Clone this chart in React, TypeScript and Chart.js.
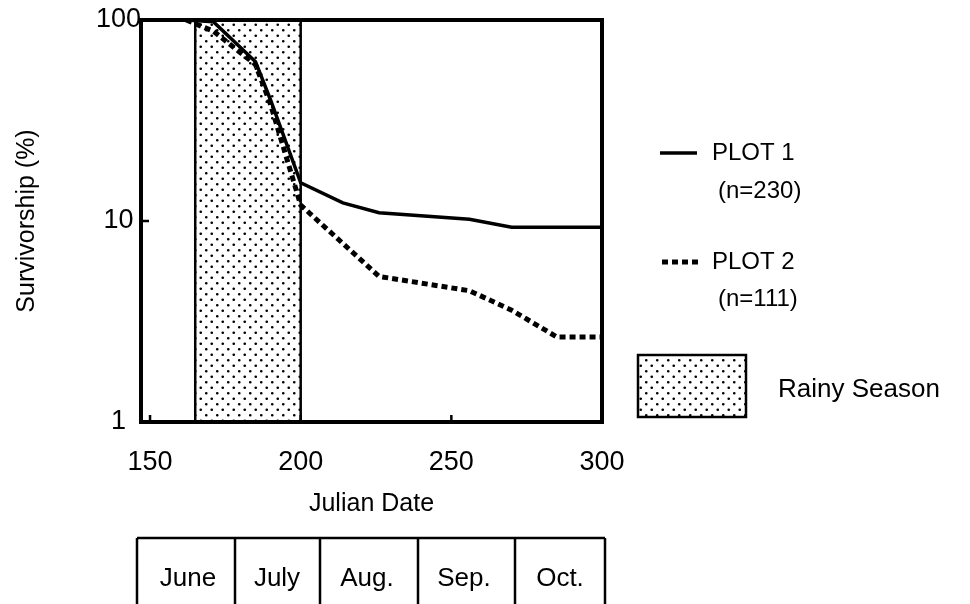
import { useEffect, useRef } from "react";
import { Chart, registerables } from "chart.js";

Chart.register(...registerables);

// ---- data ----
const plot1Dates = [162, 171, 185, 190, 200, 214, 226, 256, 270, 300];
const plot1Values = [100, 98, 62, 40, 15.5, 12.3, 11, 10.2, 9.3, 9.3];
const plot2Dates = [162, 171, 185, 190, 200, 226, 256, 270, 285, 300];
const plot2Values = [100, 88, 60, 38, 12, 5.3, 4.5, 3.6, 2.65, 2.65];
const xTickValues = [150, 200, 250, 300];
const yTickValues = [1, 10, 100];
const rainyStart = 165;
const rainyEnd = 200;
const seriesLabels = ["PLOT 1", "PLOT 2"];
const seriesCounts = ["(n=230)", "(n=111)"];
const rainyLabel = "Rainy Season";
const months = ["June", "July", "Aug.", "Sep.", "Oct."];
const xTitle = "Julian Date";
const yTitle = "Survivorship (%)";

const FONT = "'Liberation Sans', Arial, Helvetica, sans-serif";

function makePattern(ctx: CanvasRenderingContext2D) {
  const c = document.createElement("canvas");
  c.width = 11;
  c.height = 11;
  const p = c.getContext("2d")!;
  p.fillStyle = "#ffffff";
  p.fillRect(0, 0, 11, 11);
  p.fillStyle = "#000000";
  p.beginPath();
  p.arc(2.75, 2.75, 1.35, 0, Math.PI * 2);
  p.arc(8.25, 8.25, 1.35, 0, Math.PI * 2);
  p.fill();
  return ctx.createPattern(c, "repeat")!;
}

const overlay = {
  id: "overlay",
  beforeDatasetsDraw(chart: any) {
    const { ctx, chartArea: a, scales } = chart;
    const x = scales.x;
    const x0 = x.getPixelForValue(rainyStart);
    const x1 = x.getPixelForValue(rainyEnd);
    ctx.save();
    ctx.fillStyle = makePattern(ctx);
    ctx.fillRect(x0, a.top, x1 - x0, a.bottom - a.top);
    ctx.strokeStyle = "#000";
    ctx.lineWidth = 2.5;
    ctx.beginPath();
    ctx.moveTo(x0, a.top);
    ctx.lineTo(x0, a.bottom);
    ctx.moveTo(x1, a.top);
    ctx.lineTo(x1, a.bottom);
    ctx.stroke();
    ctx.restore();
  },
  afterDatasetsDraw(chart: any) {
    const { ctx, chartArea: a, scales } = chart;
    ctx.save();
    ctx.strokeStyle = "#000";
    // inner tick marks
    ctx.lineWidth = 2.5;
    ctx.beginPath();
    for (const v of xTickValues) {
      const px = scales.x.getPixelForValue(v);
      ctx.moveTo(px, a.bottom);
      ctx.lineTo(px, a.bottom - 7);
    }
    for (const v of yTickValues) {
      const py = scales.y.getPixelForValue(v);
      ctx.moveTo(a.left, py);
      ctx.lineTo(a.left + 8, py);
    }
    ctx.stroke();
    // frame
    ctx.lineWidth = 4;
    ctx.strokeRect(a.left, a.top, a.right - a.left, a.bottom - a.top);
    ctx.restore();
  },
  afterDraw(chart: any) {
    const { ctx, chartArea: a } = chart;
    ctx.save();
    ctx.fillStyle = "#000";
    ctx.strokeStyle = "#000";
    // axis titles
    ctx.font = `25px ${FONT}`;
    ctx.textAlign = "center";
    ctx.textBaseline = "middle";
    ctx.fillText(xTitle, (a.left + a.right) / 2, 504);
    ctx.save();
    ctx.translate(27, (a.top + a.bottom) / 2);
    ctx.rotate(-Math.PI / 2);
    ctx.fillText(yTitle, 0, 0);
    ctx.restore();

    // legend
    ctx.textAlign = "left";
    ctx.lineCap = "butt";
    ctx.lineWidth = 3.5;
    ctx.beginPath();
    ctx.moveTo(660, 153);
    ctx.lineTo(697, 153);
    ctx.stroke();
    ctx.lineWidth = 5;
    ctx.setLineDash([6, 4]);
    ctx.beginPath();
    ctx.moveTo(662, 262);
    ctx.lineTo(698, 262);
    ctx.stroke();
    ctx.setLineDash([]);
    ctx.font = `24px ${FONT}`;
    ctx.fillText(seriesLabels[0], 712, 153);
    ctx.fillText(seriesCounts[0], 718, 191);
    ctx.fillText(seriesLabels[1], 712, 262);
    ctx.fillText(seriesCounts[1], 718, 299);
    ctx.fillStyle = makePattern(ctx);
    ctx.fillRect(638, 355, 108, 62);
    ctx.lineWidth = 2.5;
    ctx.strokeRect(638, 355, 108, 62);
    ctx.fillStyle = "#000";
    ctx.font = `26px ${FONT}`;
    ctx.fillText(rainyLabel, 778, 390);

    // month table
    const edges = [137, 235, 320, 418, 515, 605];
    ctx.lineWidth = 2.5;
    ctx.beginPath();
    ctx.moveTo(edges[0], 538);
    ctx.lineTo(edges[edges.length - 1], 538);
    for (const e of edges) {
      ctx.moveTo(e, 538);
      ctx.lineTo(e, 606);
    }
    ctx.stroke();
    ctx.textAlign = "center";
    ctx.font = `26px ${FONT}`;
    const centers = [188, 277, 367, 464, 560];
    months.forEach((m, i) => ctx.fillText(m, centers[i], 579));
    ctx.restore();
  },
};

export default function App() {
  const ref = useRef<HTMLCanvasElement | null>(null);
  useEffect(() => {
    document.body.style.margin = "0";
    const canvas = ref.current!;
    const chart = new Chart(canvas, {
      type: "line",
      data: {
        datasets: [
          {
            label: seriesLabels[0],
            data: plot1Dates.map((d, i) => ({ x: d, y: plot1Values[i] })),
            borderColor: "#000",
            borderWidth: 3.5,
            pointRadius: 0,
            fill: false,
            tension: 0,
          },
          {
            label: seriesLabels[1],
            data: plot2Dates.map((d, i) => ({ x: d, y: plot2Values[i] })),
            borderColor: "#000",
            borderWidth: 5,
            borderDash: [6, 4],
            pointRadius: 0,
            fill: false,
            tension: 0,
          },
        ],
      },
      options: {
        responsive: false,
        animation: false,
        maintainAspectRatio: false,
        layout: { padding: { left: 0, top: 20, right: 368, bottom: 0 } },
        plugins: { legend: { display: false }, tooltip: { enabled: false } },
        scales: {
          x: {
            type: "linear",
            min: 147,
            max: 300,
            grid: { display: false, drawTicks: false },
            border: { display: false },
            afterBuildTicks: (s: any) => {
              s.ticks = xTickValues.map((v) => ({ value: v }));
            },
            afterFit: (s: any) => {
              s.height = 182;
            },
            ticks: {
              color: "#000",
              font: { family: FONT, size: 27 },
              padding: 24,
              maxRotation: 0,
              autoSkip: false,
              callback: (v: any) => String(v),
            },
          },
          y: {
            type: "logarithmic",
            min: 1,
            max: 100,
            grid: { display: false, drawTicks: false },
            border: { display: false },
            afterBuildTicks: (s: any) => {
              s.ticks = yTickValues.map((v) => ({ value: v }));
            },
            afterFit: (s: any) => {
              s.width = 141;
            },
            ticks: {
              color: "#000",
              font: { family: FONT, size: 27 },
              padding: 0,
              crossAlign: "center",
              autoSkip: false,
              callback: (v: any) => String(v),
            },
          },
        },
      },
      plugins: [overlay],
    });
    return () => chart.destroy();
  }, []);
  return (
    <canvas
      ref={ref}
      width={970}
      height={604}
      style={{ display: "block", width: 970, height: 604 }}
    />
  );
}
